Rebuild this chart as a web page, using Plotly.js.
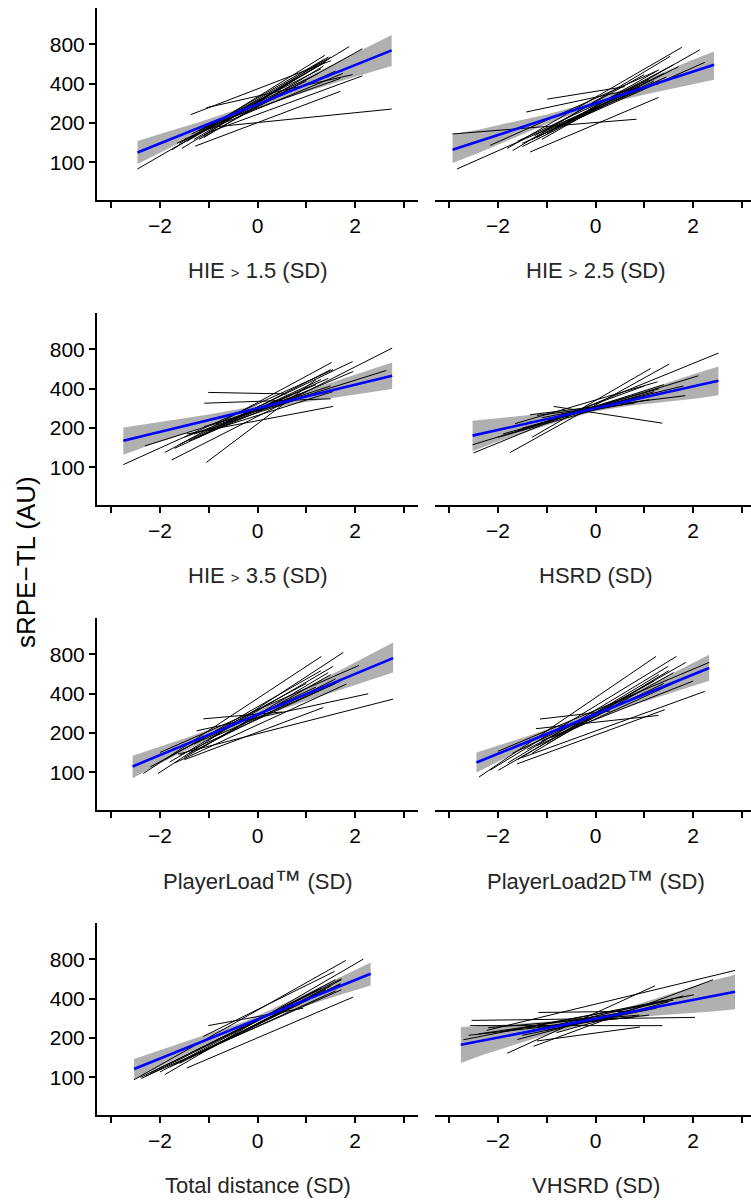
<!DOCTYPE html>
<html>
<head>
<meta charset="utf-8">
<script src="https://cdn.plot.ly/plotly-3.0.1.min.js"></script>
<style>html,body{margin:0;padding:0;overflow:hidden;background:#fff}</style>
</head>
<body>
<div id="chart" style="width:757px;height:1200px"></div>
<script>
// ---------- DATA (x in SD, y in AU) ----------
const xTitles = [
  'HIE <span style="font-size:15px">&gt;</span> 1.5 (SD)',
  'HIE <span style="font-size:15px">&gt;</span> 2.5 (SD)',
  'HIE <span style="font-size:15px">&gt;</span> 3.5 (SD)',
  'HSRD (SD)',
  'PlayerLoad<span style="font-size:27px">\u2122</span> (SD)',
  'PlayerLoad2D<span style="font-size:27px">\u2122</span> (SD)',
  'Total distance (SD)',
  'VHSRD (SD)'
];
const yTitle = 'sRPE\u2212TL (AU)';
const xTickVals = [-2, 0, 2];
const xTickText = ['\u22122', '0', '2'];
const yTickVals = [100, 200, 400, 800];
const yTickText = ['100', '200', '400', '800'];

// individual player lines: [x0, y0, x1, y1]
const segs_hie15 = [
  [-2.46, 89, 1.5, 640], [-1.75, 125, 1.38, 660], [-1.55, 128, 1.88, 770], [-1.28, 133, 1.70, 350],
  [-1.0, 185, 2.75, 256], [-1.37, 232, 1.5, 600], [-1.05, 262, 1.95, 470], [-1.2, 150, 2.15, 740],
  [-1.6, 140, 1.35, 610], [-1.45, 145, 1.4, 590], [-1.3, 150, 1.3, 560], [-1.1, 160, 1.45, 640],
  [-1.5, 150, 1.75, 480], [-1.0, 170, 2.15, 460], [-1.35, 165, 1.3, 520], [-0.9, 190, 1.6, 500],
  [-1.2, 175, 1.25, 480], [-1.65, 140, 1.0, 420], [-0.7, 210, 1.7, 440], [-1.1, 155, 1.35, 545]
];
const segs_hie25 = [
  [-2.93, 165, 0.84, 214], [-2.84, 89, 0.6, 330], [-1.34, 120, 1.29, 314], [-2.16, 135, 1.25, 500],
  [-1.81, 128, 1.77, 760], [-1.7, 123, 1.53, 648], [-1.42, 243, 1.3, 400], [-0.99, 305, 0.6, 380],
  [-1.1, 150, 2.14, 728], [-1.5, 140, 2.24, 583], [-1.2, 155, 1.6, 560], [-1.0, 165, 1.3, 512],
  [-1.3, 150, 1.4, 480], [-1.6, 145, 1.1, 430], [-0.9, 175, 1.7, 540], [-1.25, 160, 1.0, 470],
  [-1.5, 132, 1.2, 420], [-0.8, 185, 1.45, 450], [-1.1, 168, 0.9, 380], [-0.6, 205, 1.35, 420]
];
const segs_hie35 = [
  [-2.75, 105, 1.55, 560], [-2.31, 146, 2.64, 552], [-1.9, 130, 1.52, 636], [-1.76, 114, 2.76, 819],
  [-1.05, 109, 1.2, 470], [-1.01, 375, 0.6, 365], [-1.09, 310, 1.5, 335], [-1.45, 180, 1.55, 293],
  [-1.6, 150, 1.95, 646], [-1.3, 165, 1.96, 542], [-1.2, 170, 1.5, 560], [-1.4, 160, 1.3, 470],
  [-1.0, 190, 1.55, 381], [-0.9, 200, 1.2, 430], [-1.5, 170, 1.0, 380], [-1.1, 205, 0.9, 340],
  [-0.7, 215, 1.45, 480], [-1.3, 180, 0.8, 330], [-0.5, 240, 1.5, 420], [-1.7, 140, 0.7, 360]
];
const segs_hsrd = [
  [-2.5, 129, 2.52, 750], [-2.52, 149, 2.11, 503], [-1.75, 130, 1.51, 618], [-1.34, 253, 1.84, 354],
  [-1.65, 216, 1.27, 452], [-0.86, 293, 1.37, 218], [-1.3, 170, 1.13, 572], [-1.6, 190, 1.4, 430],
  [-1.2, 210, 1.0, 420], [-1.9, 180, 1.2, 380], [-1.0, 230, 1.3, 400], [-1.5, 200, 0.9, 350],
  [-1.1, 240, 1.0, 340], [-0.7, 255, 1.5, 380], [-1.4, 220, 1.1, 330], [-0.5, 260, 1.8, 420],
  [-1.2, 250, 0.8, 310], [-2.0, 170, 0.6, 320]
];
const segs_pl = [
  [-2.34, 98, 1.31, 772], [-2.04, 98, 1.76, 829], [-1.63, 138, 2.78, 364], [-1.25, 208, 2.27, 400],
  [-1.11, 257, 0.5, 290], [-1.5, 125, 1.35, 314], [-2.0, 142, 2.08, 659], [-1.8, 120, 1.55, 648],
  [-1.7, 118, 1.82, 474], [-1.5, 130, 1.5, 560], [-1.9, 125, 1.3, 600], [-1.4, 140, 1.6, 520],
  [-1.2, 150, 1.45, 580], [-1.6, 135, 1.7, 500], [-1.3, 165, 1.2, 450], [-1.0, 180, 1.6, 480],
  [-2.2, 110, 1.0, 480], [-0.9, 200, 1.75, 520]
];
const segs_pl2d = [
  [-2.39, 92, 1.24, 772], [-2.16, 104, 1.66, 772], [-1.99, 104, 1.85, 695], [-1.61, 116, 1.42, 302],
  [-1.14, 256, 0.3, 295], [-1.22, 216, 1.29, 273], [-2.0, 145, 2.33, 695], [-1.8, 118, 1.49, 648],
  [-1.5, 130, 2.24, 417], [-1.6, 125, 1.3, 560], [-1.3, 140, 1.5, 600], [-1.0, 165, 1.6, 580],
  [-1.4, 150, 1.2, 500], [-1.2, 160, 1.8, 520], [-0.9, 185, 1.4, 480], [-1.7, 140, 1.0, 430],
  [-1.1, 175, 2.0, 500]
];
const segs_td = [
  [-2.53, 96, 1.81, 786], [-2.38, 98, 1.72, 569], [-1.9, 105, 2.17, 805], [-1.45, 118, 1.96, 412],
  [-1.01, 249, 0.94, 339], [-1.11, 206, 1.58, 648], [-2.3, 102, 1.72, 469], [-2.0, 110, 1.6, 560],
  [-1.8, 120, 1.7, 520], [-1.6, 128, 1.5, 500], [-2.2, 108, 1.3, 480], [-1.2, 150, 1.72, 560],
  [-1.7, 125, 1.4, 470], [-1.0, 165, 1.7, 520], [-1.4, 140, 1.2, 430], [-2.4, 100, 1.0, 420],
  [-0.8, 180, 1.6, 460]
];
const segs_vhsrd = [
  [-2.54, 273, 2.04, 288], [-2.57, 249, 1.37, 249], [-2.23, 229, 2.86, 659], [-1.81, 153, 1.22, 503],
  [-1.27, 173, 2.41, 559], [-1.17, 314, 0.6, 320], [-2.71, 194, 2.02, 429], [-2.0, 200, 1.42, 389],
  [-1.5, 210, 1.25, 339], [-1.2, 190, 0.91, 243], [-2.4, 215, 1.0, 330], [-1.9, 225, 1.6, 390],
  [-1.0, 230, 1.3, 350], [-2.2, 240, 0.9, 300], [-1.6, 195, 1.8, 420], [-0.8, 220, 1.5, 380],
  [-1.4, 240, 0.8, 290], [-2.6, 210, 1.1, 300]
];

// population fit (blue line)
const fitX_hie15 = [-2.46, 2.75], fitY_hie15 = [119, 720];
const fitX_hie25 = [-2.93, 2.43], fitY_hie25 = [125, 559];
const fitX_hie35 = [-2.75, 2.76], fitY_hie35 = [160, 503];
const fitX_hsrd = [-2.52, 2.52], fitY_hsrd = [175, 461];
const fitX_pl = [-2.56, 2.78], fitY_pl = [111, 750];
const fitX_pl2d = [-2.44, 2.33], fitY_pl2d = [119, 629];
const fitX_td = [-2.53, 2.32], fitY_td = [116, 621];
const fitX_vhsrd = [-2.76, 2.86], fitY_vhsrd = [178, 452];

// confidence band (grey ribbon)
const bandX_hie15 = [-2.46, -1.9, -1.2, -0.26, 0.8, 1.8, 2.3, 2.75];
const bandLo_hie15 = [97, 124, 167, 243, 330, 429, 489, 548];
const bandHi_hie15 = [146, 169, 203, 267, 408, 627, 776, 945];
const bandX_hie25 = [-2.93, -2.4, -1.8, -1.0, -0.25, 0.5, 1.2, 1.9, 2.43];
const bandLo_hie25 = [99, 118, 147, 197, 252, 299, 343, 392, 429];
const bandHi_hie25 = [165, 178, 200, 233, 277, 355, 457, 592, 707];
const bandX_hie35 = [-2.75, -2.3, -1.8, -1.0, -0.1, 0.8, 1.7, 2.3, 2.76];
const bandLo_hie35 = [125, 144, 166, 209, 264, 308, 347, 374, 398];
const bandHi_hie35 = [202, 215, 229, 254, 292, 364, 470, 559, 636];
const bandX_hsrd = [-2.52, -2.1, -1.6, -0.8, -0.05, 0.7, 1.6, 2.1, 2.52];
const bandLo_hsrd = [133, 153, 177, 222, 267, 296, 323, 338, 356];
const bandHi_hsrd = [228, 235, 246, 266, 295, 355, 459, 531, 593];
const bandX_pl = [-2.56, -2.0, -1.5, -0.3, 0.8, 1.8, 2.3, 2.78];
const bandLo_pl = [90, 117, 145, 238, 333, 440, 505, 583];
const bandHi_pl = [134, 158, 182, 262, 411, 636, 792, 988];
const bandX_pl2d = [-2.44, -1.9, -1.4, -0.4, 0.6, 1.5, 2.0, 2.33];
const bandLo_pl2d = [100, 126, 156, 231, 313, 400, 458, 503];
const bandHi_pl2d = [142, 165, 189, 255, 378, 554, 686, 795];
const bandX_td = [-2.53, -2.0, -1.5, -0.25, 1.0, 1.8, 2.32];
const bandLo_td = [96, 121, 149, 244, 354, 440, 506];
const bandHi_td = [138, 161, 185, 269, 439, 612, 759];
const bandX_vhsrd = [-2.76, -2.3, -1.8, -0.9, -0.05, 0.8, 1.8, 2.4, 2.86];
const bandLo_vhsrd = [129, 149, 171, 218, 266, 289, 308, 319, 333];
const bandHi_vhsrd = [243, 247, 254, 269, 293, 357, 468, 551, 611];

const panels = [
  {segs: segs_hie15, fx: fitX_hie15, fy: fitY_hie15, bx: bandX_hie15, lo: bandLo_hie15, hi: bandHi_hie15},
  {segs: segs_hie25, fx: fitX_hie25, fy: fitY_hie25, bx: bandX_hie25, lo: bandLo_hie25, hi: bandHi_hie25},
  {segs: segs_hie35, fx: fitX_hie35, fy: fitY_hie35, bx: bandX_hie35, lo: bandLo_hie35, hi: bandHi_hie35},
  {segs: segs_hsrd, fx: fitX_hsrd, fy: fitY_hsrd, bx: bandX_hsrd, lo: bandLo_hsrd, hi: bandHi_hsrd},
  {segs: segs_pl, fx: fitX_pl, fy: fitY_pl, bx: bandX_pl, lo: bandLo_pl, hi: bandHi_pl},
  {segs: segs_pl2d, fx: fitX_pl2d, fy: fitY_pl2d, bx: bandX_pl2d, lo: bandLo_pl2d, hi: bandHi_pl2d},
  {segs: segs_td, fx: fitX_td, fy: fitY_td, bx: bandX_td, lo: bandLo_td, hi: bandHi_td},
  {segs: segs_vhsrd, fx: fitX_vhsrd, fy: fitY_vhsrd, bx: bandX_vhsrd, lo: bandLo_vhsrd, hi: bandHi_vhsrd}
];

// ---------- LAYOUT ----------
const W = 757, H = 1200;
const FONT = '"Liberation Sans", Arial, Helvetica, sans-serif';
const colPx = [[97, 418], [435, 756]];
const rowPx = [[8, 200], [313, 505], [618, 810], [923, 1115]];
const xRange = [-3.29, 3.29];
const yRange = [1.712, 3.182];

const traces = [];
const layout = {
  width: W, height: H,
  margin: {l: 0, r: 0, t: 0, b: 0},
  paper_bgcolor: '#fff', plot_bgcolor: 'rgba(0,0,0,0)',
  showlegend: false,
  font: {family: FONT, color: '#000'},
  annotations: []
};

panels.forEach((p, i) => {
  const n = i + 1;
  const sfx = n === 1 ? '' : String(n);
  const col = i % 2, row = Math.floor(i / 2);
  const xa = 'x' + sfx, ya = 'y' + sfx;

  traces.push({
    type: 'scatter', mode: 'lines', xaxis: xa, yaxis: ya,
    x: p.bx.concat(p.bx.slice().reverse()),
    y: p.lo.concat(p.hi.slice().reverse()),
    fill: 'toself', fillcolor: '#b0b0b0', line: {width: 0, color: 'rgba(0,0,0,0)'},
    hoverinfo: 'skip'
  });
  const lx = [], ly = [];
  p.segs.forEach(s => { lx.push(s[0], s[2], null); ly.push(s[1], s[3], null); });
  traces.push({
    type: 'scatter', mode: 'lines', xaxis: xa, yaxis: ya,
    x: lx, y: ly, line: {color: '#000', width: 1}, connectgaps: false, hoverinfo: 'skip'
  });
  traces.push({
    type: 'scatter', mode: 'lines', xaxis: xa, yaxis: ya,
    x: p.fx, y: p.fy, line: {color: '#0000ff', width: 2.6}, hoverinfo: 'skip'
  });

  const cx = colPx[col], ry = rowPx[row];
  layout['xaxis' + sfx] = {
    domain: [cx[0] / W, cx[1] / W], anchor: ya, range: xRange,
    showline: true, linecolor: '#000', linewidth: 2,
    ticks: 'outside', ticklen: 6, tickwidth: 2, tickcolor: '#000',
    tickmode: 'array', tickvals: xTickVals, ticktext: xTickText,
    minor: {tickmode: 'linear', tick0: 0, dtick: 1, ticks: 'outside', ticklen: 6, tickwidth: 2, tickcolor: '#000', showgrid: false},
    tickfont: {family: FONT, size: 21, color: '#000'},
    showgrid: false, zeroline: false, fixedrange: true
  };
  const yax = {
    domain: [1 - ry[1] / H, 1 - ry[0] / H], anchor: xa, type: 'log', range: yRange,
    showgrid: false, zeroline: false, fixedrange: true
  };
  if (col === 0) {
    Object.assign(yax, {
      showline: true, linecolor: '#000', linewidth: 2,
      ticks: 'outside', ticklen: 6, tickwidth: 2, tickcolor: '#000',
      tickmode: 'array', tickvals: yTickVals, ticktext: yTickText,
      tickfont: {family: FONT, size: 21, color: '#000'}
    });
  } else {
    Object.assign(yax, {showline: false, ticks: '', showticklabels: false});
  }
  layout['yaxis' + sfx] = yax;

  layout.annotations.push({
    xref: 'paper', yref: 'paper',
    x: (cx[0] + cx[1]) / 2 / W, y: 1 - (ry[1] + 70) / H,
    xanchor: 'center', yanchor: 'middle', showarrow: false,
    text: xTitles[i], font: {family: FONT, size: 22, color: '#262626'}
  });
});

layout.annotations.push({
  xref: 'paper', yref: 'paper', x: 26 / W, y: 1 - 562 / H,
  xanchor: 'center', yanchor: 'middle', showarrow: false, textangle: -90,
  text: yTitle, font: {family: FONT, size: 26, color: '#000'}
});

Plotly.newPlot('chart', traces, layout, {displayModeBar: false, staticPlot: true});
</script>
</body>
</html>
